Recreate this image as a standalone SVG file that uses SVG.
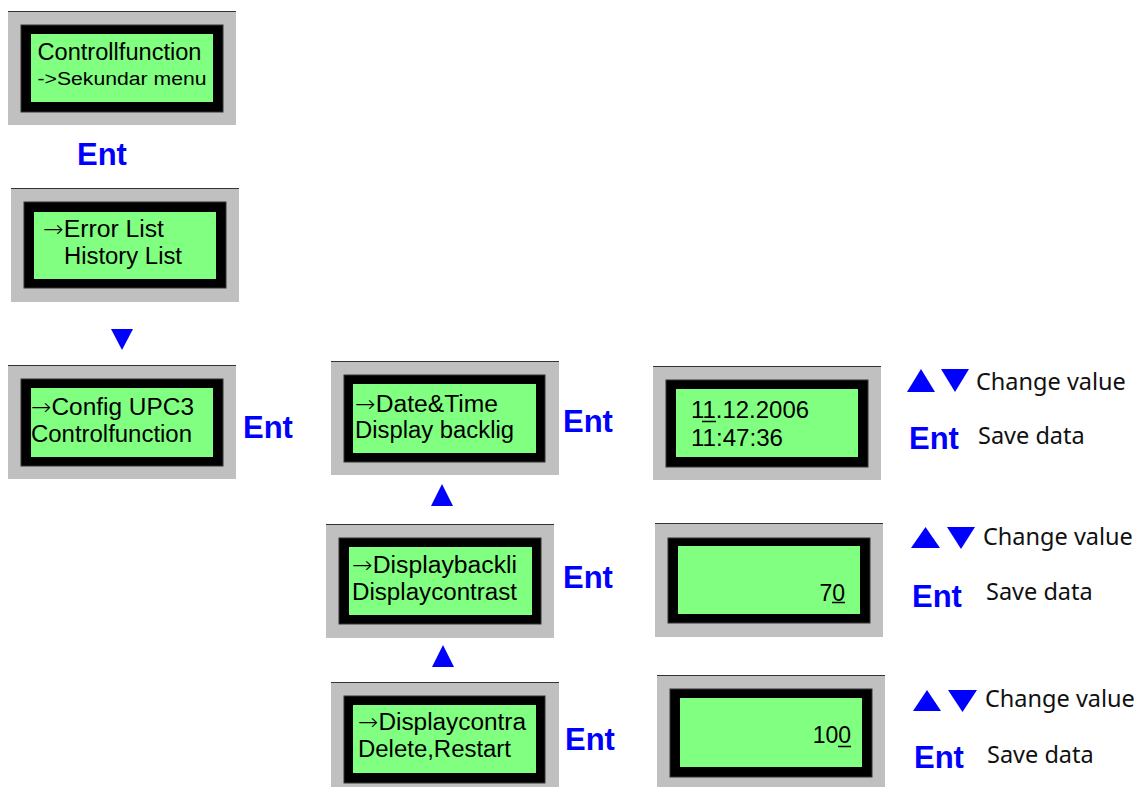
<svg xmlns="http://www.w3.org/2000/svg" width="1138" height="787" viewBox="0 0 1138 787">
<style>
.bez{fill:#C0C0C0}
.top{stroke:#333;stroke-width:1.2}
.frm{fill:#000;stroke:#333;stroke-width:1}
.lcd{fill:#80FF80}
.t{font-family:"Liberation Sans",Arial,sans-serif;font-size:23px;fill:#000}
.ar{font-family:"DejaVu Sans",sans-serif;font-weight:200}
.ent{font-family:"Liberation Sans",Arial,sans-serif;font-size:31px;font-weight:bold;fill:#0000FF}
.leg{font-family:"Noto Sans","Open Sans",sans-serif;font-size:23.5px;fill:#111}
.tri{fill:#0000FF}
.ul{stroke:#000;stroke-width:1.5}
</style>
<rect width="1138" height="787" fill="#fff"/>

<g id="node-controllfunction">
<rect class="bez" x="8" y="11" width="228" height="114"/><line class="top" x1="8" y1="11.5" x2="236" y2="11.5"/>
<rect class="frm" x="21" y="25" width="202" height="87"/>
<rect class="lcd" x="31" y="34" width="182" height="68"/>
<text class="t" x="37.5" y="60" textLength="164" lengthAdjust="spacingAndGlyphs">Controllfunction</text>
<text class="t" x="37.5" y="85" style="font-size:18px" textLength="169" lengthAdjust="spacingAndGlyphs">-&gt;Sekundar menu</text>
</g>

<g id="node-error-list">
<rect class="bez" x="11" y="188" width="228" height="114"/><line class="top" x1="11" y1="188.5" x2="239" y2="188.5"/>
<rect class="frm" x="24" y="202" width="202" height="86"/>
<rect class="lcd" x="34" y="212" width="182" height="67"/>
<text class="t" x="43" y="237" textLength="121" lengthAdjust="spacingAndGlyphs"><tspan class="ar">→</tspan>Error List</text>
<text class="t" x="64" y="264" textLength="118" lengthAdjust="spacingAndGlyphs">History List</text>
</g>

<g id="node-config">
<rect class="bez" x="8" y="365" width="228" height="114"/><line class="top" x1="8" y1="365.5" x2="236" y2="365.5"/>
<rect class="frm" x="21" y="379" width="202" height="87"/>
<rect class="lcd" x="31" y="388" width="182" height="69"/>
<text class="t" x="31" y="415" textLength="163" lengthAdjust="spacingAndGlyphs"><tspan class="ar">→</tspan>Config UPC3</text>
<text class="t" x="31" y="442" textLength="161" lengthAdjust="spacingAndGlyphs">Controlfunction</text>
</g>

<g id="node-date-time">
<rect class="bez" x="331" y="361" width="228" height="114"/><line class="top" x1="331" y1="361.5" x2="559" y2="361.5"/>
<rect class="frm" x="344" y="375" width="201" height="87"/>
<rect class="lcd" x="353" y="384" width="183" height="69"/>
<text class="t" x="355" y="412" textLength="143" lengthAdjust="spacingAndGlyphs"><tspan class="ar">→</tspan>Date&amp;Time</text>
<text class="t" x="355" y="438" textLength="159" lengthAdjust="spacingAndGlyphs">Display backlig</text>
</g>

<g id="node-displaybackli">
<rect class="bez" x="326" y="524" width="228" height="114"/><line class="top" x1="326" y1="524.5" x2="554" y2="524.5"/>
<rect class="frm" x="339" y="538" width="202" height="86"/>
<rect class="lcd" x="349" y="547" width="183" height="68"/>
<text class="t" x="352" y="573" textLength="165" lengthAdjust="spacingAndGlyphs"><tspan class="ar">→</tspan>Displaybackli</text>
<text class="t" x="352" y="600" textLength="165" lengthAdjust="spacingAndGlyphs">Displaycontrast</text>
</g>

<g id="node-displaycontra">
<rect class="bez" x="331" y="682" width="228" height="114"/><line class="top" x1="331" y1="682.5" x2="559" y2="682.5"/>
<rect class="frm" x="344" y="696" width="201" height="87"/>
<rect class="lcd" x="353" y="705" width="183" height="68"/>
<text class="t" x="358" y="730" textLength="168" lengthAdjust="spacingAndGlyphs"><tspan class="ar">→</tspan>Displaycontra</text>
<text class="t" x="358" y="757" textLength="153" lengthAdjust="spacingAndGlyphs">Delete,Restart</text>
</g>

<g id="node-date-value">
<rect class="bez" x="653" y="366" width="228" height="114"/><line class="top" x1="653" y1="366.5" x2="881" y2="366.5"/>
<rect class="frm" x="666" y="380" width="202" height="87"/>
<rect class="lcd" x="676" y="389" width="182" height="68"/>
<text class="t" x="691" y="418" textLength="118" lengthAdjust="spacingAndGlyphs">11.12.2006</text>
<line class="ul" x1="702" y1="421.5" x2="716" y2="421.5"/>
<text class="t" x="691" y="446" textLength="92" lengthAdjust="spacingAndGlyphs">11:47:36</text>
</g>

<g id="node-backlight-value">
<rect class="bez" x="655" y="523" width="228" height="114"/><line class="top" x1="655" y1="523.5" x2="883" y2="523.5"/>
<rect class="frm" x="668" y="538" width="202" height="85"/>
<rect class="lcd" x="678" y="546" width="182" height="68"/>
<text class="t" x="845" y="601" text-anchor="end">70</text>
<line class="ul" x1="832" y1="602.5" x2="845" y2="602.5"/>
</g>

<g id="node-contrast-value">
<rect class="bez" x="657" y="675" width="228" height="114"/><line class="top" x1="657" y1="675.5" x2="885" y2="675.5"/>
<rect class="frm" x="670" y="689" width="202" height="88"/>
<rect class="lcd" x="680" y="698" width="182" height="69"/>
<text class="t" x="851" y="743" text-anchor="end">100</text>
<line class="ul" x1="838" y1="746.5" x2="851" y2="746.5"/>
</g>

<g id="connectors">
<text class="ent" x="77" y="165">Ent</text>
<polygon class="tri" points="111,329 133,329 122,350"/>
<text class="ent" x="243" y="438">Ent</text>
<text class="ent" x="563" y="432">Ent</text>
<polygon class="tri" points="431,506 453,506 442,484"/>
<text class="ent" x="563" y="588">Ent</text>
<polygon class="tri" points="432,667 454,667 443,645"/>
<text class="ent" x="565" y="750">Ent</text>
</g>

<g id="legend-date">
<polygon class="tri" points="907,392 935,392 921,369"/>
<polygon class="tri" points="941,369 969,369 955,392"/>
<text class="leg" x="976" y="390">Change value</text>
<text class="ent" x="909" y="449">Ent</text>
<text class="leg" x="978" y="444">Save data</text>
</g>

<g id="legend-backlight">
<polygon class="tri" points="911,548 940,548 925.5,527"/>
<polygon class="tri" points="947,527 975,527 961,549"/>
<text class="leg" x="983" y="545">Change value</text>
<text class="ent" x="912" y="607">Ent</text>
<text class="leg" x="986" y="600">Save data</text>
</g>

<g id="legend-contrast">
<polygon class="tri" points="913,711 941,711 927,690"/>
<polygon class="tri" points="948,690 977,690 962.5,712"/>
<text class="leg" x="985" y="707">Change value</text>
<text class="ent" x="914" y="768">Ent</text>
<text class="leg" x="987" y="763">Save data</text>
</g>
</svg>
